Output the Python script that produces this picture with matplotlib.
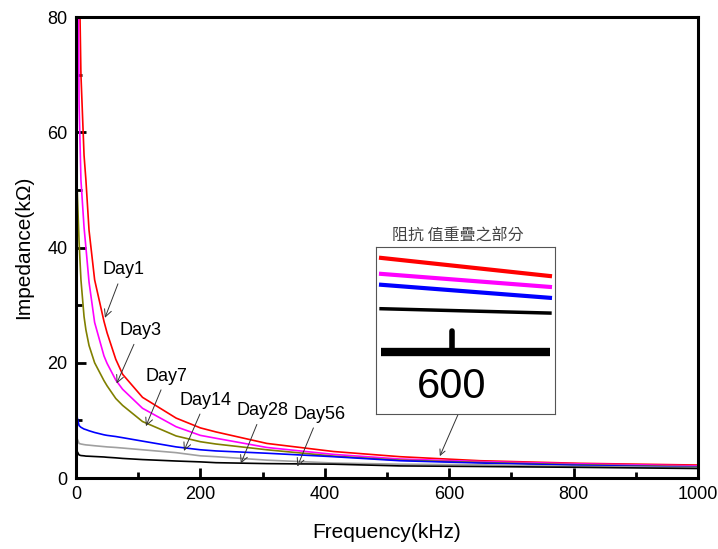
import numpy as np
import matplotlib.pyplot as plt
from matplotlib.ticker import MultipleLocator

plt.rcParams['font.family'] = ['Liberation Sans', 'DejaVu Sans']

# frequency (kHz) and impedance (kOhm)
freq = [0.5, 2, 5, 8, 13, 16, 21, 30, 45, 50, 64, 75, 107, 161, 200, 225, 307, 414, 521, 650, 810, 1000]
day1 = [300, 150, 90, 70, 56, 51.7, 43, 34.4, 27.2, 25.2, 20.6, 18.0, 14.0, 10.4, 8.7, 8.0, 6.0, 4.6, 3.7, 3.0, 2.55, 2.25]
day3 = [200, 110, 65, 51.7, 43.5, 40, 34, 27, 21.2, 19.9, 17.0, 15.4, 12.1, 8.9, 7.4, 6.9, 5.3, 4.1, 3.3, 2.85, 2.45, 2.1]
day7 = [62, 50, 41, 34.4, 28, 25.7, 23, 20.0, 16.9, 16.0, 13.8, 12.6, 9.8, 7.3, 6.3, 5.9, 4.9, 3.8, 3.1, 2.7, 2.3, 1.95]
day14 = [15.6, 10.5, 9.1, 8.8, 8.5, 8.4, 8.2, 7.9, 7.5, 7.4, 7.2, 7.0, 6.4, 5.4, 4.9, 4.7, 4.3, 3.7, 3.0, 2.6, 2.2, 1.85]
day28 = [7.8, 6.8, 6.0, 5.9, 5.8, 5.75, 5.7, 5.6, 5.45, 5.4, 5.3, 5.2, 4.9, 4.4, 3.85, 3.7, 3.1, 2.6, 2.4, 2.3, 2.0, 1.8]
day56 = [5.8, 4.6, 4.0, 3.9, 3.85, 3.8, 3.78, 3.73, 3.65, 3.6, 3.5, 3.4, 3.2, 2.95, 2.8, 2.66, 2.5, 2.4, 2.1, 2.0, 1.85, 1.65]

series = [day1, day3, day7, day14, day28, day56]
colors = ['#ff0000', '#ff00ff', '#808000', '#0000ff', '#a0a0a0', '#000000']
labels = ['Day1', 'Day3', 'Day7', 'Day14', 'Day28', 'Day56']
label_xy = [(76, 36.1), (103, 25.6), (146, 17.7), (209, 13.5), (300, 11.7), (391, 11.1)]
tip_xy = [(46.6, 27.8), (65.4, 16.4), (112.5, 9.0), (173.6, 4.7), (265, 2.5), (356, 2.0)]

# inset (zoomed-in overlap near 600 kHz)
inset_x = [0, 1]
inset_red = [5.5, 3.0]
inset_mag = [3.3, 1.5]
inset_blue = [1.8, 0.0]
inset_black = [-1.5, -2.1]

fig = plt.figure(figsize=(7.18, 5.49), dpi=100)
ax = fig.add_axes([0.1058, 0.1293, 0.8663, 0.8397])

for y, c in zip(series, colors):
    ax.plot(freq, y, color=c, lw=1.2)

ax.set_xlim(0, 1000)
ax.set_ylim(0, 80)
ax.xaxis.set_major_locator(MultipleLocator(200))
ax.xaxis.set_minor_locator(MultipleLocator(100))
ax.yaxis.set_major_locator(MultipleLocator(20))
ax.yaxis.set_minor_locator(MultipleLocator(10))
ax.tick_params(which='major', direction='in', length=7, width=2, labelsize=13, pad=6)
ax.tick_params(which='minor', direction='in', length=4, width=2)
for s in ax.spines.values():
    s.set_linewidth(2.2)

ax.set_xlabel('Frequency(kHz)', fontsize=15, labelpad=14)
ax.set_ylabel('Impedance(k\u03a9)', fontsize=15, labelpad=10)

for lab, (tx, ty), (ax_, ay) in zip(labels, label_xy, tip_xy):
    ax.annotate(lab, xy=(ax_, ay), xytext=(tx, ty), fontsize=13, ha='center', va='center',
                arrowprops=dict(arrowstyle='->', color='#333333', lw=0.7, shrinkA=2, shrinkB=0))

# arrow from inset box to curves
ax.annotate('', xy=(585, 3.8), xytext=(615, 11.2),
            arrowprops=dict(arrowstyle='->', color='#333333', lw=0.7, shrinkA=0, shrinkB=0))

# inset box
ins = fig.add_axes([376 / 718, 1 - 414 / 549, 179 / 718, 167 / 549])
ins.set_xticks([])
ins.set_yticks([])
for s in ins.spines.values():
    s.set_linewidth(0.8)
    s.set_color('#555555')
ins.set_xlim(-0.03, 1.03)
ins.set_ylim(-16, 7)
ins.plot(inset_x, inset_red, color='#ff0000', lw=3)
ins.plot(inset_x, inset_mag, color='#ff00ff', lw=3)
ins.plot(inset_x, inset_blue, color='#0000ff', lw=3)
ins.plot(inset_x, inset_black, color='#000000', lw=2.5)
ins.plot([0, 1], [-7.5, -7.5], color='black', lw=6, solid_capstyle='butt')
ins.plot([0.42, 0.42], [-7.5, -4.5], color='black', lw=4, solid_capstyle='round')
ins.text(0.42, -12.3, '600', fontsize=30, ha='center', va='center')

fig.text(458 / 718, 1 - 236 / 549, '阻抗 值重疊之部分', fontsize=11.5, ha='center', va='center',
         color='#444444', family=['Noto Sans CJK TC', 'DejaVu Sans'])

fig.savefig('out.png', dpi=100)
